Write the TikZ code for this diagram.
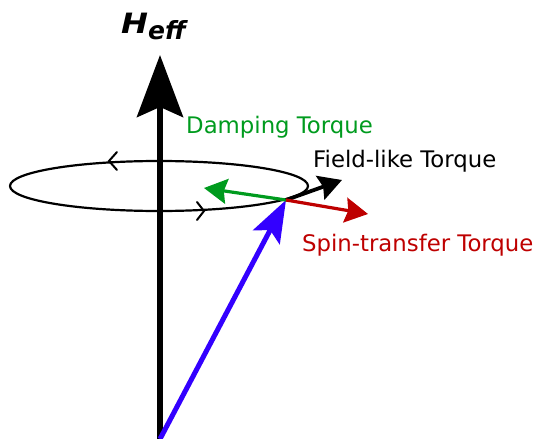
\documentclass[tikz,border=0pt]{standalone}
\usepackage{fontspec}
\setmainfont{DejaVu Sans}
\newfontfamily\labfont{DejaVu Sans}
\usetikzlibrary{arrows.meta}
\definecolor{dampgreen}{RGB}{0,155,30}
\definecolor{stred}{RGB}{190,0,0}
\definecolor{magblue}{RGB}{51,0,255}
\tikzset{
  lab/.style={anchor=base west, inner sep=0pt, font=\labfont\fontsize{22.8}{26}\selectfont},
  torque/.style={line width=3.2pt, -{Stealth[length=23pt,width=25pt,inset=3pt]}},
  chev/.style={line width=2pt, line cap=round, line join=miter},
}
\begin{document}
\begin{tikzpicture}[x=1pt,y=-1pt]
\useasboundingbox (0,0) rectangle (539,439);
% coordinates
\coordinate (O) at (160,439);
\coordinate (Top) at (160,55);
\coordinate (P) at (286,200);
\coordinate (C) at (159,186);
\coordinate (G) at (204,188);
\coordinate (F) at (342,180);
\coordinate (R) at (368,214);
% precession ellipse
\draw[line width=2.2pt] (C) ellipse [x radius=149, y radius=25];
% direction chevrons
\draw[chev] (117,152) -- (109,161) -- (117,170);
\draw[chev] (197,202) -- (204,211) -- (197,220);
% field axis
\draw[line width=6pt, -{Stealth[length=62pt,width=46pt,inset=10pt]}] (O) -- (Top);
% magnetization
\draw[line width=5pt, magblue, -{Stealth[length=42pt,width=30pt,inset=8pt]}] (O) -- (P);
% torques
\draw[torque, dampgreen] (P) -- (G);
\draw[torque, black, line width=3.8pt] (P) -- (F);
\draw[torque, stred] (P) -- (R);
% labels
\node (heff) [anchor=base west, inner sep=0pt] at (121,33) {\bfseries\itshape\scalebox{1.15}[1]{\fontsize{28}{30}\selectfont H}\raisebox{-6pt}{\fontsize{25}{26}\selectfont eff}};
\node (damp) [lab, text=dampgreen] at (186,133) {Damping Torque};
\node (field) [lab] at (313,167) {Field-like Torque};
\node (spin) [lab, text=stred] at (302,251) {Spin-transfer Torque};
\end{tikzpicture}
\end{document}
